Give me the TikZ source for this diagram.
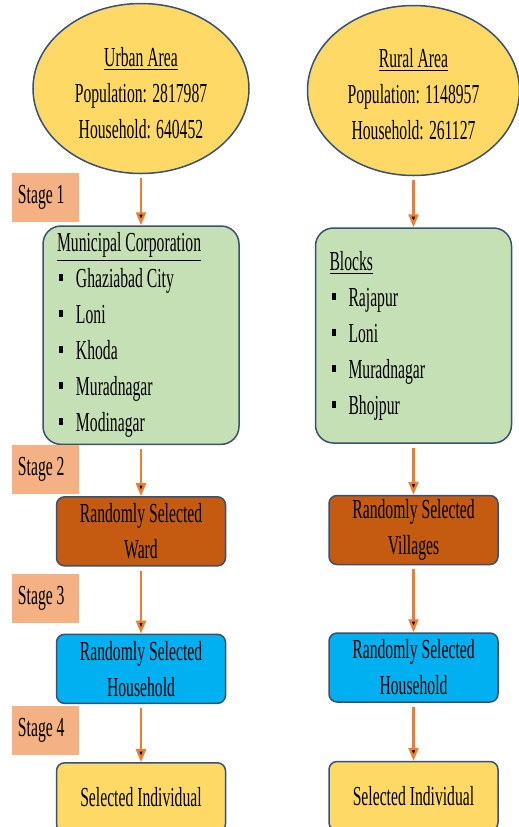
\documentclass[tikz,border=0pt]{standalone}
\usepackage{fontspec}
\setmainfont[FakeStretch=0.57]{Liberation Serif}
\usetikzlibrary{positioning,shapes.geometric,arrows.meta}
\definecolor{areafill}{HTML}{FFD966}
\definecolor{edgeblue}{HTML}{3A5072}
\definecolor{listgreen}{HTML}{C5E0B4}
\definecolor{wardbrown}{HTML}{C55A11}
\definecolor{houseblue}{HTML}{00B0F0}
\definecolor{stagepeach}{HTML}{F4B183}
\definecolor{flow}{HTML}{ED7D31}
\newcommand{\bitem}{\hspace*{1pt}\rule[3.3pt]{2pt}{3.4pt}\hspace{6.5pt}}
\newcommand{\toppad}[1]{\rule{0pt}{#1}}

\begin{document}
\begin{tikzpicture}[->,>={Triangle[width=5pt,length=6.5pt]},shorten <=2pt,
  font=\fontsize{13.75}{18}\selectfont,
  area node/.style={ellipse,draw=edgeblue,line width=0.75pt,fill=areafill,minimum width=108pt,minimum height=85pt,align=center,inner sep=0pt},
  list node/.style={rectangle,rounded corners=9pt,draw=edgeblue,line width=0.75pt,fill=listgreen,minimum height=107.5pt,text width=84pt,inner xsep=7pt,align=flush left},
  pick node/.style={rectangle,rounded corners=4pt,draw=edgeblue,line width=0.75pt,minimum width=84.5pt,minimum height=34.5pt,align=center,inner sep=0pt},
  stage node/.style={fill=stagepeach,minimum height=24.5pt,text width=27.5pt,inner xsep=3pt,align=flush left}]
            \useasboundingbox (0,0) rectangle (259.5pt,-413.5pt);

            % urban side
            \node[area node] (urban) at (70.5pt,-44.25pt) {\toppad{14.5pt}\underline{Urban Area}\\Population: 2817987\\Household: 640452};
            \node[list node] (muni) [below=25.5pt of urban] {\underline{Municipal Corporation}\\\bitem Ghaziabad City\\\bitem Loni\\\bitem Khoda\\\bitem Muradnagar\\\bitem Modinagar};
            \node[pick node,fill=wardbrown] (ward) [below=25.5pt of muni] {Randomly Selected\\Ward};
            \node[pick node,fill=houseblue] (uhouse) [below=33.5pt of ward] {Randomly Selected\\Household};
            \node[pick node,fill=areafill] (uperson) [below=29pt of uhouse] {Selected Individual};

            % rural side
            \node[area node,minimum width=106pt] (rural) at (206.75pt,-45.25pt) {\toppad{13.5pt}\underline{Rural Area}\\Population: 1148957\\Household: 261127};
            \node[list node] (blocks) [below=25.5pt of rural] {\underline{Blocks}\\\bitem Rajapur\\\bitem Loni\\\bitem Muradnagar\\\bitem Bhojpur};
            \node[pick node,fill=wardbrown] (villages) [below=25.5pt of blocks] {Randomly Selected\\Villages};
            \node[pick node,fill=houseblue] (rhouse) [below=33.5pt of villages] {Randomly Selected\\Household};
            \node[pick node,fill=areafill] (rperson) [below=29pt of rhouse] {Selected Individual};

            % stage tags
            \node[stage node] (s1) at (22.75pt,-98.75pt) {Stage 1};
            \node[stage node] (s2) at (22.75pt,-234.5pt) {Stage 2};
            \node[stage node] (s3) at (22.75pt,-299.25pt) {Stage 3};
            \node[stage node] (s4) at (22.75pt,-365.25pt) {Stage 4};

            \path[draw=flow,line width=1.2pt]
                (urban) edge (muni)
                (muni) edge (ward)
                (ward) edge (uhouse)
                (uhouse) edge (uperson)
                (rural) edge (blocks)
                (blocks) edge (villages)
                (villages) edge (rhouse)
                (rhouse) edge (rperson)
                ;
        \end{tikzpicture}
\end{document}
